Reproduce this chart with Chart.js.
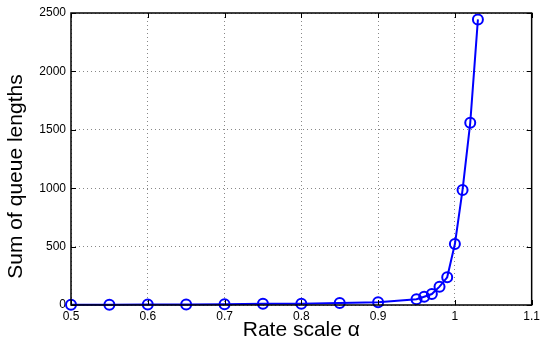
<!DOCTYPE html>
<html>
<head>
<meta charset="utf-8">
<script src="https://cdn.jsdelivr.net/npm/chart.js@4.4.0/dist/chart.umd.min.js"></script>
<style>
  html, body { margin: 0; padding: 0; background: #fff; }
  #wrap { width: 544px; height: 341px; }
</style>
</head>
<body>
<div id="wrap"><canvas id="chart"></canvas></div>
<script>
// Rate scale values and queue length sums
const rateScale = [0.5, 0.55, 0.6, 0.65, 0.7, 0.75, 0.8, 0.85, 0.9, 0.95, 0.96, 0.97, 0.98, 0.99, 1.0, 1.01, 1.02, 1.03];
const queueSum = [2, 3, 4, 5, 6, 10, 11, 17, 23, 49, 71, 94, 157, 237, 522, 985, 1560, 2445];

const xTickLabels = ['0.5', '0.6', '0.7', '0.8', '0.9', '1', '1.1'];
const yTickLabels = ['0', '500', '1000', '1500', '2000', '2500'];

const BLUE = '#0000ff';
const FONT = 'Liberation Sans, Arial, Helvetica, sans-serif';

// black box around the plot with inward ticks on every side (matlab style)
const boxPlugin = {
    id: 'box',
    afterDraw(chart) {
        const { ctx, chartArea: a, scales } = chart;
        const len = 5;
        ctx.save();
        ctx.strokeStyle = '#000';
        ctx.lineWidth = 1;
        scales.x.ticks.forEach(t => {
            const px = Math.round(scales.x.getPixelForValue(t.value)) + 0.5;
            ctx.beginPath();
            ctx.moveTo(px, a.bottom); ctx.lineTo(px, a.bottom - len);
            ctx.moveTo(px, a.top); ctx.lineTo(px, a.top + len);
            ctx.stroke();
        });
        scales.y.ticks.forEach(t => {
            const py = Math.round(scales.y.getPixelForValue(t.value)) + 0.5;
            ctx.beginPath();
            ctx.moveTo(a.left, py); ctx.lineTo(a.left + len, py);
            ctx.moveTo(a.right, py); ctx.lineTo(a.right - len, py);
            ctx.stroke();
        });
        ctx.lineWidth = 1.5;
        ctx.strokeRect(a.left, a.top, a.right - a.left, a.bottom - a.top);
        ctx.restore();
    }
};

const points = rateScale.map((x, i) => ({ x: x, y: queueSum[i] }));

new Chart(document.getElementById('chart'), {
    type: 'line',
    data: {
        datasets: [{
            data: points,
            borderColor: BLUE,
            borderWidth: 2,
            backgroundColor: 'rgba(0,0,0,0)',
            pointStyle: 'circle',
            pointRadius: 5,
            pointBorderWidth: 2,
            pointBorderColor: BLUE,
            pointBackgroundColor: 'rgba(0,0,0,0)',
            tension: 0,
            clip: false
        }]
    },
    options: {
        responsive: true,
        maintainAspectRatio: false,
        animation: false,
        events: [],
        layout: { padding: { top: 13, right: 9, left: 0, bottom: 0 } },
        plugins: {
            legend: { display: false },
            tooltip: { enabled: false }
        },
        scales: {
            x: {
                type: 'linear',
                min: 0.5,
                max: 1.1,
                afterFit(scale) { scale.height = 36; },
                afterBuildTicks(scale) {
                    scale.ticks = xTickLabels.map(l => ({ value: parseFloat(l) }));
                },
                ticks: {
                    color: '#000',
                    font: { family: FONT, size: 12 },
                    padding: 4,
                    maxRotation: 0,
                    autoSkip: false,
                    callback: (v, i) => xTickLabels[i]
                },
                grid: {
                    color: '#888',
                    lineWidth: 1,
                    drawTicks: false
                },
                border: { display: false, dash: [1, 3] },
                title: {
                    display: true,
                    text: 'Rate scale α',
                    color: '#000',
                    font: { family: FONT, size: 21, lineHeight: 1 },
                    padding: { top: 0, bottom: 0.5 }
                }
            },
            y: {
                type: 'linear',
                min: 0,
                max: 2500,
                afterFit(scale) { scale.width = 71; },
                afterBuildTicks(scale) {
                    scale.ticks = yTickLabels.map(l => ({ value: parseFloat(l) }));
                },
                ticks: {
                    color: '#000',
                    font: { family: FONT, size: 12 },
                    padding: 5,
                    autoSkip: false,
                    callback: (v, i) => yTickLabels[i]
                },
                grid: {
                    color: '#888',
                    lineWidth: 1,
                    drawTicks: false
                },
                border: { display: false, dash: [1, 3] },
                title: {
                    display: true,
                    // trailing spaces push the text a little lower, as in the original
                    text: 'Sum of queue lengths      ',
                    color: '#000',
                    font: { family: FONT, size: 21, lineHeight: 1 },
                    padding: { top: 5.5, bottom: 0 }
                }
            }
        }
    },
    plugins: [boxPlugin]
});
</script>
</body>
</html>
